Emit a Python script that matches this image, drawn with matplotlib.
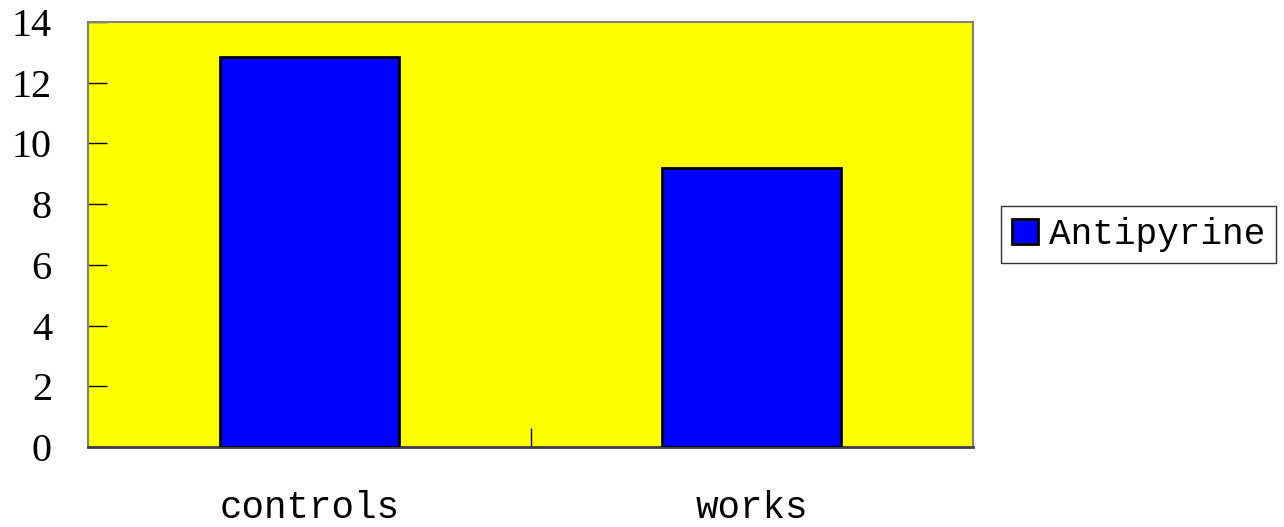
import matplotlib
matplotlib.use("Agg")
import matplotlib.pyplot as plt
from matplotlib.ticker import FixedLocator

# data
categories = ["controls", "works"]
antipyrine = [12.85, 9.18]
y_ticks = [0, 2, 4, 6, 8, 10, 12, 14]

mono = ["Liberation Mono", "DejaVu Sans Mono"]
serif = ["Liberation Serif", "DejaVu Serif"]

fig = plt.figure(figsize=(12.84, 5.27), dpi=100)
ax = fig.add_axes([88 / 1284, 1 - 447 / 527, (973 - 88) / 1284, (447 - 22) / 527])
ax.set_facecolor("#ffff00")

x = list(range(len(categories)))
ax.bar(x, antipyrine, width=0.405, color="#0000ff", edgecolor="black",
       linewidth=2, label="Antipyrine", zorder=3)

ax.set_xlim(-0.5, len(categories) - 0.5)
ax.set_ylim(0, 14)
ax.set_yticks(y_ticks)
ax.set_yticklabels([str(v) for v in y_ticks], fontfamily=serif, fontsize=29)
ax.tick_params(axis="y", direction="in", length=14, width=1, color="black", pad=26)

ax.set_xticks(x)
ax.set_xticklabels(categories, fontfamily=mono, fontsize=27)
ax.tick_params(axis="x", which="major", length=0, pad=31)
ax.xaxis.set_minor_locator(FixedLocator([0.5]))
ax.tick_params(axis="x", which="minor", direction="in", length=14, width=1, color="black")

for side in ["left", "top", "right"]:
    ax.spines[side].set_color("#808080")
    ax.spines[side].set_linewidth(1.5)
ax.spines["bottom"].set_color("#404040")
ax.spines["bottom"].set_linewidth(2)

leg = fig.legend(loc="center left", bbox_to_anchor=(1001 / 1284, 1 - 234.5 / 527),
                 prop={"family": mono, "size": 26}, frameon=True, fancybox=False,
                 handlelength=0.72, handleheight=0.72, handletextpad=0.3,
                 borderpad=0.3, borderaxespad=0)
leg.get_frame().set_edgecolor("black")
leg.get_frame().set_linewidth(1)

fig.savefig("out.png", dpi=100, facecolor="white")
